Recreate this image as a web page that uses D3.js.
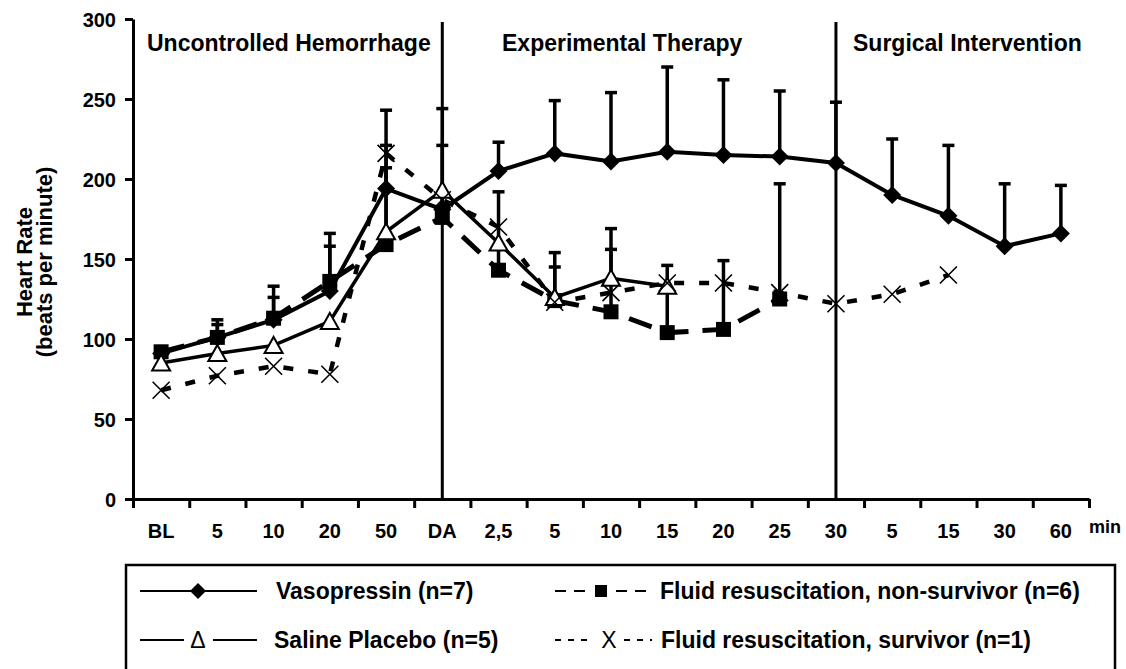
<!DOCTYPE html>
<html>
<head>
<meta charset="utf-8">
<script src="https://cdn.jsdelivr.net/npm/d3@7"></script>
<style>
   body { margin: 0; background: #fff; }
   text { font-family: "Liberation Sans", Arial, sans-serif; font-weight: bold; fill: #000; }
</style>
</head>
<body>
<div id="chart"></div>
<script>

// X CATEGORIES (TIME POINTS)
var categories = ['BL', '5', '10', '20', '50', 'DA', '2,5', '5', '10', '15', '20', '25', '30', '5', '15', '30', '60'];

// Y TICKS
var yTicks = [0, 50, 100, 150, 200, 250, 300];

// PHASES (LABEL + CATEGORY INDEX WHERE IT STARTS)
var phaseLabels = ['Uncontrolled Hemorrhage', 'Experimental Therapy', 'Surgical Intervention'];
var phaseDividers = [5, 12];

// SERIES VALUES (MEAN) AND UPPER ERROR (SD)
var vasopressin   = [91, 101, 112, 130, 194, 181, 205, 216, 211, 217, 215, 214, 210, 190, 177, 158, 166];
var vasopressinSd = [3, 11, 21, 36, 49, 63, 18, 33, 43, 53, 47, 41, 38, 35, 44, 39, 30];

var saline   = [85, 91, 96, 111, 167, 193, 160, 126, 138, 133, null, null, null, null, null, null, null];
var salineSd = [null, null, null, null, 40, null, null, 19, 18, null, null, null, null, null, null, null, null];

var nonSurvivor   = [92, 101, 113, 136, 159, 176, 143, 124, 117, 104, 106, 125, null, null, null, null, null];
var nonSurvivorSd = [1, 8, 13, 22, 62, 45, 49, 30, 52, 42, 43, 72, null, null, null, null, null];

var survivor = [68, 77, 83, 78, 216, 187, 170, 123, 129, 135, 135, 129, 122, 128, 140, null, null];

// LEGEND LABELS
var legendLabels = ['Vasopressin (n=7)', 'Fluid resuscitation, non-survivor (n=6)',
                    'Saline Placebo (n=5)', 'Fluid resuscitation, survivor (n=1)'];

// CANVAS
var width = 1126, height = 669;
var plot = { left: 133, right: 1089, top: 19, bottom: 499 };

var svg = d3.select('#chart').append('svg')
   .attr('width', width)
   .attr('height', height);

// SCALES
var x = d3.scaleBand()
   .domain(d3.range(categories.length))
   .range([plot.left, plot.right])
   .padding(0);

var edges = d3.scaleLinear()
   .domain([0, categories.length])
   .range([plot.left, plot.right]);

var y = d3.scaleLinear()
   .domain([0, 300])
   .range([plot.bottom, plot.top]);

var cx = (i) => x(i) + x.bandwidth() / 2;

// Y AXIS
var yAxis = svg.append('g')
   .attr('transform', 'translate(' + plot.left + ',0)')
   .call(d3.axisLeft(y).tickValues(yTicks).tickSize(8).tickSizeOuter(0).tickPadding(9));
yAxis.select('.domain').attr('stroke-width', 3);
yAxis.selectAll('.tick line').attr('stroke-width', 3);
yAxis.selectAll('.tick text')
   .attr('font-size', 20)
   .attr('dy', '0.36em');

// X AXIS (TICKS ON BAND EDGES)
var xAxis = svg.append('g')
   .attr('transform', 'translate(0,' + plot.bottom + ')')
   .call(d3.axisBottom(edges).tickValues(d3.range(categories.length + 1)).tickSize(9).tickSizeOuter(0).tickFormat(''));
xAxis.select('.domain').attr('stroke-width', 3);
xAxis.selectAll('.tick line').attr('stroke-width', 3);

// X LABELS AT BAND CENTERS
svg.append('g').selectAll('text')
   .data(categories)
   .enter().append('text')
      .attr('x', (d, i) => cx(i))
      .attr('y', 538)
      .attr('text-anchor', 'middle')
      .attr('font-size', 20)
      .text(d => d);

svg.append('text')
   .attr('x', 1089)
   .attr('y', 533)
   .attr('font-size', 18)
   .text('min');

// Y TITLE
svg.append('text')
   .attr('transform', 'translate(32,262) rotate(-90)')
   .attr('text-anchor', 'middle')
   .attr('font-size', 22)
   .text('Heart Rate');

svg.append('text')
   .attr('transform', 'translate(52,262) rotate(-90)')
   .attr('text-anchor', 'middle')
   .attr('font-size', 22)
   .text('(beats per minute)');

// PHASE DIVIDERS
svg.append('g').selectAll('line')
   .data(phaseDividers)
   .enter().append('line')
      .attr('x1', d => cx(d))
      .attr('x2', d => cx(d))
      .attr('y1', 22)
      .attr('y2', plot.bottom)
      .attr('stroke', '#000')
      .attr('stroke-width', 3);

// PHASE LABELS
var phaseX = [147, 502, 853];
svg.append('g').selectAll('text')
   .data(phaseLabels)
   .enter().append('text')
      .attr('x', (d, i) => phaseX[i])
      .attr('y', 51)
      .attr('font-size', 23)
      .text(d => d);

// LINE GENERATOR
var pathify = d3.line()
   .defined(d => d != null)
   .x((d, i) => cx(i))
   .y(d => y(d));

// SERIES LINES
var lines = [
   { data: survivor, width: 4.5, dash: '10,15' },
   { data: nonSurvivor, width: 5, dash: '24,14' },
   { data: saline, width: 3.5, dash: null },
   { data: vasopressin, width: 4, dash: null }
];

lines.forEach((s) => {
   svg.append('path')
      .attr('fill', 'none')
      .attr('stroke', '#000')
      .attr('stroke-width', s.width)
      .attr('stroke-dasharray', s.dash)
      .attr('d', pathify(s.data));
});

// ERROR BARS (UPPER ONLY)
var errors = [
   { data: vasopressin, sd: vasopressinSd },
   { data: nonSurvivor, sd: nonSurvivorSd },
   { data: saline, sd: salineSd }
];

errors.forEach((s) => {
   var pts = s.data.map((d, i) => ({ i: i, v: d, sd: s.sd[i] }))
      .filter(p => p.v != null && p.sd != null);

   var g = svg.append('g').attr('stroke', '#000');

   g.selectAll('.stem')
      .data(pts)
      .enter().append('line')
         .attr('x1', p => cx(p.i))
         .attr('x2', p => cx(p.i))
         .attr('y1', p => y(p.v))
         .attr('y2', p => y(p.v + p.sd))
         .attr('stroke-width', 3.5);

   g.selectAll('.cap')
      .data(pts)
      .enter().append('line')
         .attr('x1', p => cx(p.i) - 6)
         .attr('x2', p => cx(p.i) + 6)
         .attr('y1', p => y(p.v + p.sd))
         .attr('y2', p => y(p.v + p.sd))
         .attr('stroke-width', 3.5);
});

// MARKER SHAPES
var diamond = 'M0,-9L9,0L0,9L-9,0Z';
var square = 'M-7.5,-7.5H7.5V7.5H-7.5Z';
var triangle = 'M0,-8.5L9,7.5L-9,7.5Z';
var cross = 'M-8.5,-8.5L8.5,8.5M-8.5,8.5L8.5,-8.5';

function markers(data, shape, fill, stroke, sw) {
   svg.append('g').selectAll('path')
      .data(data.map((d, i) => ({ i: i, v: d })).filter(p => p.v != null))
      .enter().append('path')
         .attr('transform', p => 'translate(' + cx(p.i) + ',' + y(p.v) + ')')
         .attr('d', shape)
         .attr('fill', fill)
         .attr('stroke', stroke)
         .attr('stroke-width', sw);
}

markers(vasopressin, diamond, '#000', 'none', 0);
markers(nonSurvivor, square, '#000', 'none', 0);
markers(saline, triangle, '#fff', '#000', 2);
markers(survivor, cross, 'none', '#000', 1.6);

// LEGEND BOX
var legend = svg.append('g');

legend.append('rect')
   .attr('x', 126)
   .attr('y', 565)
   .attr('width', 989)
   .attr('height', 120)
   .attr('fill', 'none')
   .attr('stroke', '#000')
   .attr('stroke-width', 2.5);

var rowY = [591, 640];

// VASOPRESSIN KEY
legend.append('line')
   .attr('x1', 140).attr('x2', 257).attr('y1', rowY[0]).attr('y2', rowY[0])
   .attr('stroke', '#000').attr('stroke-width', 2);
legend.append('path')
   .attr('transform', 'translate(198,' + rowY[0] + ')')
   .attr('d', 'M0,-8L8,0L0,8L-8,0Z');

// SALINE KEY
legend.append('line')
   .attr('x1', 140).attr('x2', 184).attr('y1', rowY[1]).attr('y2', rowY[1])
   .attr('stroke', '#000').attr('stroke-width', 2);
legend.append('line')
   .attr('x1', 213).attr('x2', 257).attr('y1', rowY[1]).attr('y2', rowY[1])
   .attr('stroke', '#000').attr('stroke-width', 2);
legend.append('text')
   .attr('x', 198).attr('y', rowY[1] + 8)
   .attr('text-anchor', 'middle')
   .attr('font-size', 23)
   .style('font-weight', 'normal')
   .text('\u0394');

// NON-SURVIVOR KEY
legend.append('line')
   .attr('x1', 555).attr('x2', 588).attr('y1', rowY[0]).attr('y2', rowY[0])
   .attr('stroke', '#000').attr('stroke-width', 2).attr('stroke-dasharray', '11,8');
legend.append('line')
   .attr('x1', 616).attr('x2', 650).attr('y1', rowY[0]).attr('y2', rowY[0])
   .attr('stroke', '#000').attr('stroke-width', 2).attr('stroke-dasharray', '11,8');
legend.append('rect')
   .attr('x', 595).attr('y', rowY[0] - 6).attr('width', 12).attr('height', 12);

// SURVIVOR KEY
legend.append('line')
   .attr('x1', 555).attr('x2', 592).attr('y1', rowY[1]).attr('y2', rowY[1])
   .attr('stroke', '#000').attr('stroke-width', 2).attr('stroke-dasharray', '6,7');
legend.append('line')
   .attr('x1', 624).attr('x2', 652).attr('y1', rowY[1]).attr('y2', rowY[1])
   .attr('stroke', '#000').attr('stroke-width', 2).attr('stroke-dasharray', '6,7');
legend.append('text')
   .attr('x', 609).attr('y', rowY[1] + 8)
   .attr('text-anchor', 'middle')
   .attr('font-size', 23)
   .style('font-weight', 'normal')
   .text('X');

// LEGEND TEXT
var legendPos = [[276, rowY[0]], [660, rowY[0]], [274, rowY[1]], [661, rowY[1]]];
legend.selectAll('.label')
   .data(legendLabels)
   .enter().append('text')
      .attr('x', (d, i) => legendPos[i][0])
      .attr('y', (d, i) => legendPos[i][1] + 8)
      .attr('font-size', 23)
      .text(d => d);

</script>
</body>
</html>
